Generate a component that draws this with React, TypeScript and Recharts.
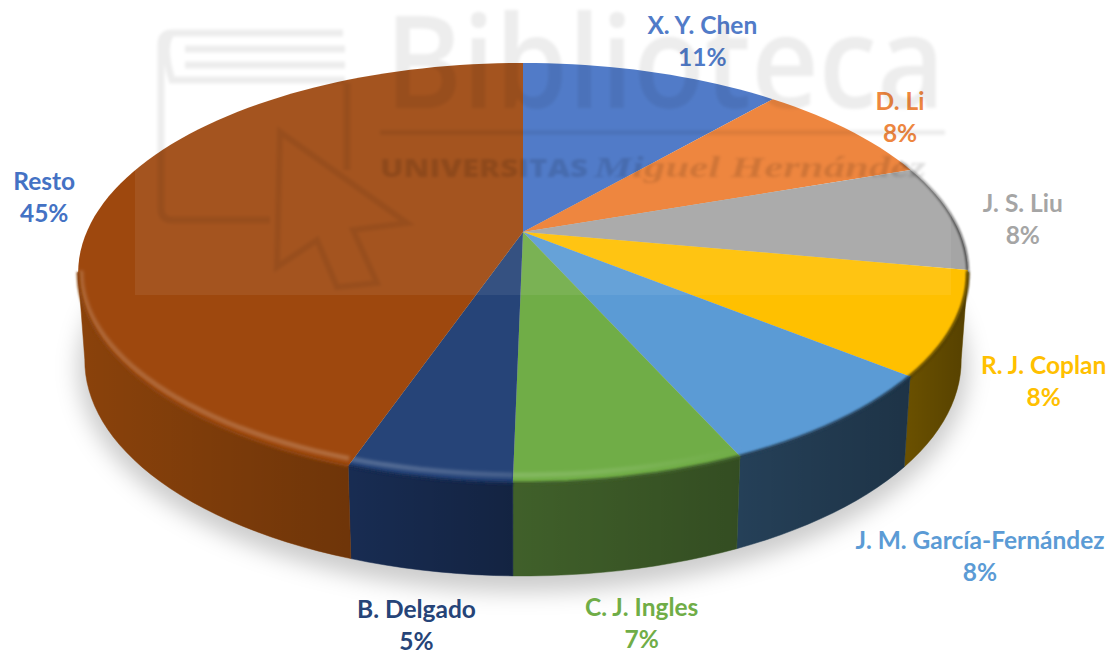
import { Cell, Pie, PieChart } from "recharts";

const AUTHORS = [
  "X. Y. Chen",
  "D. Li",
  "J. S. Liu",
  "R. J. Coplan",
  "J. M. García-Fernández",
  "C. J. Ingles",
  "B. Delgado",
  "Resto",
];
const SHARES = [11.4, 8.3, 8.2, 7.9, 7.5, 7.0, 5.0, 44.7];

const TOP_COLORS = ["#4472c4", "#ed7d31", "#a5a5a5", "#ffc000", "#5b9bd5", "#70ad47", "#264478", "#9e480e"];
const WALL_COLORS = ["#28447a", "#8e4a1c", "#636363", "#6b5100", "#254058", "#40602a", "#182c52", "#8a420b"];
const LABEL_COLORS = ["#4472c4", "#ed7d31", "#a5a5a5", "#ffc000", "#5b9bd5", "#70ad47", "#264478", "#4472c4"];

// label block offset from the rim point at the middle of each slice
const LABEL_OFFSETS = [
  [50, -30],
  [51, -12],
  [71, 3],
  [89, 58],
  [142, 136],
  [11, 147],
  [-12, 148],
  [-62, -2],
];

const WIDTH = 1109;
const HEIGHT = 651;
const CX = 523;
const CY = 232;
const RADIUS = 202;

// the flat disc seen in perspective: far edge shrinks, near edge grows
const TILT = 0.195;
const STRETCH = 2.16;

const pieData = AUTHORS.map((name, i) => ({ name, value: SHARES[i] }));

function rim(deg: number, cx: number, cy: number, r: number) {
  const a = (deg * Math.PI) / 180;
  const u = Math.cos(a);
  const v = Math.sin(a);
  const d = 1 + TILT * v;
  return { x: cx + (r * STRETCH * u) / d, y: cy - (r * v) / d, u, v };
}

function floorOf(p: { x: number; y: number; v: number }, cx: number) {
  return { x: cx + (p.x - cx) * 0.985, y: p.y + 86 + 7 * Math.max(0, -p.v) };
}

function sweep(from: number, to: number) {
  const steps = Math.max(2, Math.ceil(Math.abs(from - to) / 2));
  const out: number[] = [];
  for (let i = 0; i <= steps; i++) out.push(from + ((to - from) * i) / steps);
  return out;
}

const toPath = (pts: { x: number; y: number }[]) =>
  pts.map((p, i) => `${i ? "L" : "M"}${p.x.toFixed(1)} ${p.y.toFixed(1)}`).join(" ");

function Slice(props: any) {
  const { cx, cy, outerRadius, startAngle, endAngle, name } = props;
  const idx = AUTHORS.indexOf(name);
  const top = sweep(startAngle, endAngle).map((a) => rim(a, cx, cy, outerRadius));

  const wallFrom = Math.min(startAngle, -11);
  const wallTo = Math.max(endAngle, -169);
  const hasWall = wallFrom > wallTo;
  const front = hasWall ? sweep(wallFrom, wallTo).map((a) => rim(a, cx, cy, outerRadius)) : [];
  const wall = [...front, ...front.map((p) => floorOf(p, cx)).reverse()];
  const glint = front.map((p) => ({ x: p.x - 3 * p.u, y: p.y + 8 * p.v }));

  const shadeFrom = Math.min(startAngle, 22);
  const shaded = shadeFrom > endAngle ? sweep(shadeFrom, endAngle).map((a) => rim(a, cx, cy, outerRadius)) : [];

  return (
    <g>
      {hasWall && (
        <>
          <path d={toPath(wall) + " Z"} fill={WALL_COLORS[idx]} stroke={WALL_COLORS[idx]} strokeWidth={0.5} />
          <path d={toPath(wall) + " Z"} fill="url(#wallShade)" />
        </>
      )}
      <path d={`M${cx} ${cy} ${toPath(top).replace("M", "L")} Z`} fill={TOP_COLORS[idx]} />
      {shaded.length > 0 && (
        <path d={toPath(shaded)} fill="none" stroke="url(#rimShade)" strokeWidth={3} filter="url(#soft1)" />
      )}
      {hasWall && (
        <>
          <path d={toPath(glint)} fill="none" stroke="url(#glint)" strokeWidth={5} filter="url(#soft2)" />
          <path d={toPath(front)} fill="none" stroke={WALL_COLORS[idx]} strokeWidth={3} filter="url(#soft1)" />
        </>
      )}
    </g>
  );
}

function SliceLabel(props: any) {
  const { cx, cy, outerRadius, midAngle, percent, name } = props;
  const idx = AUTHORS.indexOf(name);
  const p = rim(midAngle, cx, cy, outerRadius);
  const x = p.x + LABEL_OFFSETS[idx][0];
  const y = p.y + LABEL_OFFSETS[idx][1];
  return (
    <text
      x={x}
      y={y}
      textAnchor="middle"
      fill={LABEL_COLORS[idx]}
      fontFamily="Lato, 'Open Sans', sans-serif"
      fontWeight={700}
      fontSize={24.5}
    >
      <tspan x={x} dy={-8}>
        {name}
      </tspan>
      <tspan x={x} dy={32}>
        {`${Math.round(percent * 100)}%`}
      </tspan>
    </text>
  );
}

function Watermark() {
  const ink = "rgba(0,0,0,0.07)";
  return (
    <svg
      width={WIDTH}
      height={HEIGHT}
      style={{ position: "absolute", left: 0, top: 0, pointerEvents: "none" }}
    >
      <defs>
        <filter id="markBlur" x="-5%" y="-5%" width="110%" height="110%">
          <feGaussianBlur stdDeviation="1.4" />
        </filter>
      </defs>
      <rect x={135} y={0} width={816} height={295} fill="rgba(255,255,255,0.07)" />
      <g filter="url(#markBlur)">
        <path
          d="M343 33 H172 Q161 33 161 45 V208 Q161 220 172 220 H270 M347 83 V170 M185 49 H345 M185 65 H345 M172 33 Q161 44 172 80 H345"
          fill="none"
          stroke={ink}
          strokeWidth={7}
        />
        <path
          d="M280 132 L407 223 L353 230 L377 283 L337 287 L317 240 L277 267 Z"
          fill="none"
          stroke={ink}
          strokeWidth={6}
        />
        <text x={385} y={108} fontFamily="'Open Sans', sans-serif" fontWeight={600} fontSize={128} textLength={560} lengthAdjust="spacingAndGlyphs" fill={ink}>
          Biblioteca
        </text>
        <rect x={380} y={130} width={565} height={5} fill={ink} />
        <text x={380} y={177} fontFamily="'Open Sans', sans-serif" fontWeight={800} fontSize={24} textLength={208} lengthAdjust="spacingAndGlyphs" fill="rgba(0,0,0,0.13)">
          UNIVERSITAS
        </text>
        <text x={594} y={177} fontFamily="'Liberation Serif', serif" fontStyle="italic" fontWeight={700} fontSize={30} textLength={332} lengthAdjust="spacingAndGlyphs" fill="rgba(0,0,0,0.13)">
          Miguel Hernández
        </text>
      </g>
    </svg>
  );
}

export default function App() {
  return (
    <div style={{ position: "absolute", left: 0, top: 0, width: WIDTH, height: HEIGHT, overflow: "hidden", background: "#fff" }}>
      {/* soft drop shadow under the disc */}
      <div
        style={{
          position: "absolute",
          left: 78,
          top: 144,
          width: 890,
          height: 448,
          borderRadius: "50%",
          background: "rgba(0,0,0,0.2)",
          filter: "blur(11px)",
        }}
      />
      <svg width={0} height={0} style={{ position: "absolute", left: 0, top: 0 }}>
        <defs>
          <filter id="soft1" x="-20%" y="-20%" width="140%" height="140%">
            <feGaussianBlur stdDeviation="1.2" />
          </filter>
          <filter id="soft2" x="-20%" y="-20%" width="140%" height="140%">
            <feGaussianBlur stdDeviation="1.6" />
          </filter>
          <linearGradient id="wallShade" x1="0" y1="0" x2="1" y2="0">
            <stop offset="0" stopColor="#000" stopOpacity={0} />
            <stop offset="1" stopColor="#000" stopOpacity={0.2} />
          </linearGradient>
          <linearGradient id="glint" gradientUnits="userSpaceOnUse" x1={78} y1={0} x2={967} y2={0}>
            <stop offset="0" stopColor="#fff" stopOpacity={0.16} />
            <stop offset="0.35" stopColor="#fff" stopOpacity={0.2} />
            <stop offset="0.6" stopColor="#fff" stopOpacity={0.1} />
            <stop offset="0.75" stopColor="#fff" stopOpacity={0} />
          </linearGradient>
          <linearGradient id="rimShade" gradientUnits="userSpaceOnUse" x1={700} y1={0} x2={967} y2={0}>
            <stop offset="0.5" stopColor="#000" stopOpacity={0} />
            <stop offset="1" stopColor="#000" stopOpacity={0.55} />
          </linearGradient>
        </defs>
      </svg>
      <div style={{ position: "absolute", left: 0, top: 0 }}>
        <PieChart width={WIDTH} height={HEIGHT} margin={{ top: 0, right: 0, bottom: 0, left: 0 }}>
          <Pie
            data={pieData}
            dataKey="value"
            nameKey="name"
            cx={CX}
            cy={CY}
            innerRadius={0}
            outerRadius={RADIUS}
            startAngle={90}
            endAngle={-270}
            stroke="none"
            shape={Slice}
            label={SliceLabel}
            labelLine={false}
            isAnimationActive={false}
          >
            {AUTHORS.map((name, i) => (
              <Cell key={name} fill={TOP_COLORS[i]} />
            ))}
          </Pie>
        </PieChart>
      </div>
      <Watermark />
    </div>
  );
}
